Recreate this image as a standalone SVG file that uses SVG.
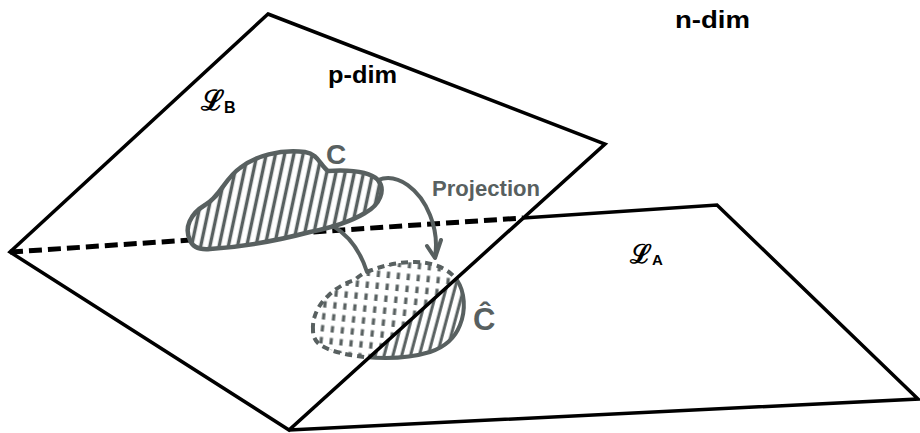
<svg xmlns="http://www.w3.org/2000/svg" width="920" height="433" viewBox="0 0 920 433">
<style>
.edge{fill:none;stroke:#000;stroke-width:3.5;stroke-linejoin:miter}
.hidden{fill:none;stroke:#000;stroke-width:5;stroke-dasharray:13 6}
.g{fill:none;stroke:#586060;stroke-width:4;stroke-linecap:round;stroke-linejoin:round}
.lbl{font-family:"Liberation Sans",Arial,sans-serif;font-weight:bold;fill:#000}
.glbl{font-family:"Liberation Sans",Arial,sans-serif;font-weight:bold;fill:#586060}
</style>
<defs>
<pattern id="hatch" width="9" height="9" patternUnits="userSpaceOnUse" patternTransform="rotate(12)">
<rect width="9" height="9" fill="#fff"/>
<line x1="4.5" y1="-1" x2="4.5" y2="10" stroke="#586060" stroke-width="3.4"/>
</pattern>
<pattern id="hatch2" width="8.5" height="8" patternUnits="userSpaceOnUse" patternTransform="rotate(15)">
<rect width="8.5" height="8" fill="#fff"/>
<line x1="4" y1="-1" x2="4" y2="9" stroke="#586060" stroke-width="3"/>
</pattern>
<pattern id="dhatch" width="10" height="12" patternUnits="userSpaceOnUse" patternTransform="rotate(6)">
<rect width="10" height="12" fill="#fff"/>
<line x1="5" y1="1.5" x2="5" y2="8" stroke="#586060" stroke-width="3.2"/>
</pattern>
<clipPath id="rightOf"><polygon points="289,430 605,144 760,144 760,433"/></clipPath>
<clipPath id="leftOf"><polygon points="289,430 605,144 200,144 200,433"/></clipPath>
<path id="cloud2" d="M313,330 C312,318 318,305 328,296 C336,288 345,283 355,280 C360,275 365,272 372,270 C385,265 400,262 415,262 C432,262 448,268 457,280 C465,292 466,310 460,325 C455,338 445,347 430,352 C410,358 385,359 365,357 C345,355 325,350 318,343 C314,339 313,335 313,330 Z"/>
</defs>

<g id="planeA">
<polyline class="hidden" points="10,252 523,218"/>
<polyline class="edge" points="523,218 717,205 918,399 289,430"/>
</g>

<g id="cloudC">
<path d="M190,240 C184,228 190,214 205,205 C220,197 225,178 240,168 C255,156 280,149 305,152 C318,154 320,165 328,171 C345,170 368,170 378,180 C386,190 380,205 365,213 C350,222 330,228 310,232 C280,240 240,247 210,249 C198,250 192,246 190,240 Z" fill="url(#hatch)" stroke="#586060" stroke-width="4.5" stroke-linejoin="round"/>
</g>

<g id="cloudChat">
<g clip-path="url(#leftOf)">
<use href="#cloud2" fill="url(#dhatch)" stroke="#586060" stroke-width="4" stroke-dasharray="7 5"/>
</g>
<g clip-path="url(#rightOf)">
<use href="#cloud2" fill="url(#hatch2)" stroke="#586060" stroke-width="4"/>
</g>
</g>

<g id="planeB">
<polygon class="edge" points="268,14 605,144 289,430 10,252"/>
</g>

<g id="connectors">
<path class="g" d="M378,180 C398,172 420,190 430,215 C436,230 437,245 435,257"/>
<path class="g" d="M427,246 L435,258 L441,240"/>
<path class="g" d="M333,226 C348,235 360,250 367,272"/>
</g>

<g id="labels">
<text class="lbl" x="675" y="28" font-size="24" textLength="75" lengthAdjust="spacingAndGlyphs">n-dim</text>
<text class="lbl" x="328" y="83" font-size="23" textLength="69" lengthAdjust="spacingAndGlyphs">p-dim</text>
<text class="lbl" x="201" y="110" font-size="28" font-family="DejaVu Sans">ℒ<tspan font-size="16" dy="3">B</tspan></text>
<text class="lbl" x="630" y="263" font-size="26" font-family="DejaVu Sans">ℒ<tspan font-size="15" dy="2">A</tspan></text>
<text class="glbl" x="326" y="164" font-size="28">C</text>
<text class="glbl" x="473" y="330" font-size="31">Ĉ</text>
<text class="glbl" x="432" y="196" font-size="22" textLength="108" lengthAdjust="spacingAndGlyphs">Projection</text>
</g>
</svg>
